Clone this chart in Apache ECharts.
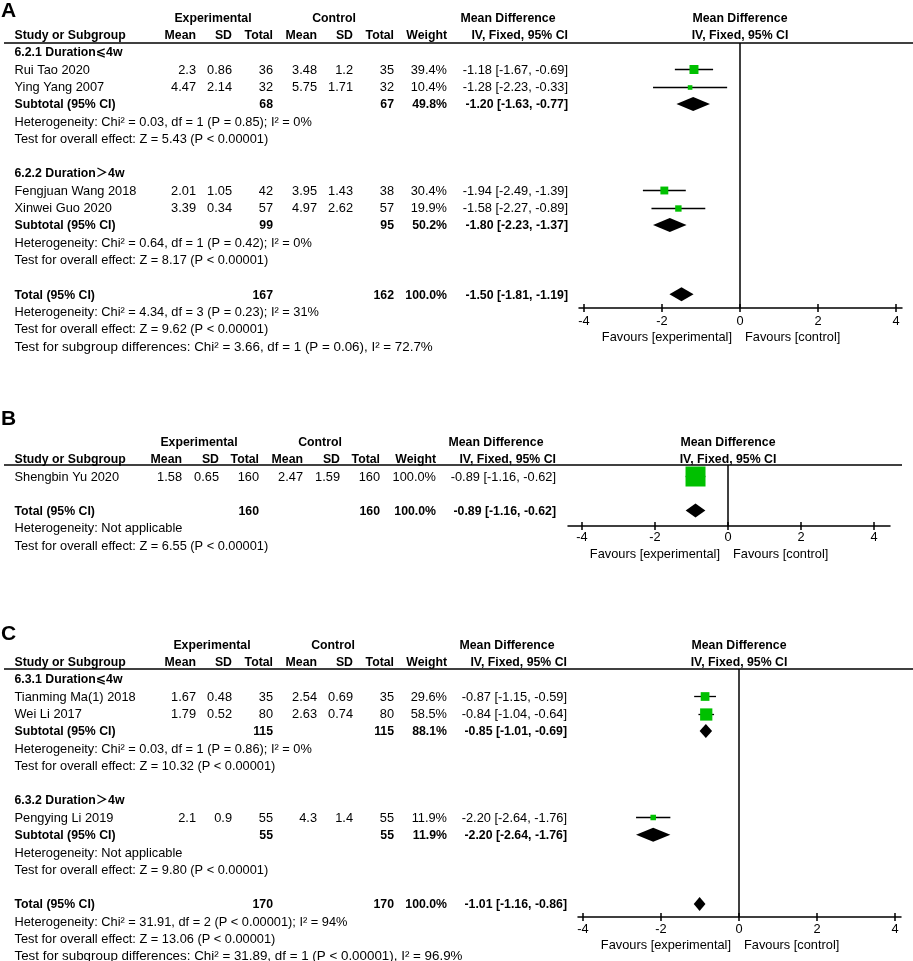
<!DOCTYPE html>
<html><head><meta charset="utf-8">
<style>html,body{margin:0;padding:0;background:#fff}#c{width:913px;height:961px}</style>
<script src="https://cdn.jsdelivr.net/npm/echarts@6/dist/echarts.min.js"></script>
</head><body><div id="c"></div>
<script>
// ---------------- DATA: Panel A ----------------
const A_subgroups = ['6.2.1 Duration\u2A7D4w', '6.2.2 Duration\uFF1E4w'];
const A_studies = ['Rui Tao 2020', 'Ying Yang 2007', 'Fengjuan Wang 2018', 'Xinwei Guo 2020'];
const A_studyGroup = [0, 0, 1, 1];
const A_expMean = [2.3, 4.47, 2.01, 3.39];
const A_expSD = [0.86, 2.14, 1.05, 0.34];
const A_expN = [36, 32, 42, 57];
const A_ctlMean = [3.48, 5.75, 3.95, 4.97];
const A_ctlSD = [1.2, 1.71, 1.43, 2.62];
const A_ctlN = [35, 32, 38, 57];
const A_weight = [39.4, 10.4, 30.4, 19.9];
const A_md = [-1.18, -1.28, -1.94, -1.58];
const A_lo = [-1.67, -2.23, -2.49, -2.27];
const A_hi = [-0.69, -0.33, -1.39, -0.89];
const A_subExpN = [68, 99];
const A_subCtlN = [67, 95];
const A_subWeight = [49.8, 50.2];
const A_subMd = [-1.20, -1.80];
const A_subLo = [-1.63, -2.23];
const A_subHi = [-0.77, -1.37];
const A_subHet = ['Heterogeneity: Chi\u00B2 = 0.03, df = 1 (P = 0.85); I\u00B2 = 0%', 'Heterogeneity: Chi\u00B2 = 0.64, df = 1 (P = 0.42); I\u00B2 = 0%'];
const A_subZ = ['Test for overall effect: Z = 5.43 (P < 0.00001)', 'Test for overall effect: Z = 8.17 (P < 0.00001)'];
const A_totalN = [167, 162];
const A_totalWeight = 100.0;
const A_totalCI = [-1.50, -1.81, -1.19];
const A_totalNotes = ['Heterogeneity: Chi\u00B2 = 4.34, df = 3 (P = 0.23); I\u00B2 = 31%', 'Test for overall effect: Z = 9.62 (P < 0.00001)', 'Test for subgroup differences: Chi\u00B2 = 3.66, df = 1 (P = 0.06), I\u00B2 = 72.7%'];

// ---------------- DATA: Panel B ----------------
const B_studies = ['Shengbin Yu 2020'];
const B_expMean = [1.58];
const B_expSD = [0.65];
const B_expN = [160];
const B_ctlMean = [2.47];
const B_ctlSD = [1.59];
const B_ctlN = [160];
const B_weight = [100.0];
const B_md = [-0.89];
const B_lo = [-1.16];
const B_hi = [-0.62];
const B_totalN = [160, 160];
const B_totalWeight = 100.0;
const B_totalCI = [-0.89, -1.16, -0.62];
const B_totalNotes = ['Heterogeneity: Not applicable', 'Test for overall effect: Z = 6.55 (P < 0.00001)'];

// ---------------- DATA: Panel C ----------------
const C_subgroups = ['6.3.1 Duration\u2A7D4w', '6.3.2 Duration\uFF1E4w'];
const C_studies = ['Tianming Ma(1) 2018', 'Wei Li 2017', 'Pengying Li 2019'];
const C_studyGroup = [0, 0, 1];
const C_expMean = [1.67, 1.79, 2.1];
const C_expSD = [0.48, 0.52, 0.9];
const C_expN = [35, 80, 55];
const C_ctlMean = [2.54, 2.63, 4.3];
const C_ctlSD = [0.69, 0.74, 1.4];
const C_ctlN = [35, 80, 55];
const C_weight = [29.6, 58.5, 11.9];
const C_md = [-0.87, -0.84, -2.20];
const C_lo = [-1.15, -1.04, -2.64];
const C_hi = [-0.59, -0.64, -1.76];
const C_subExpN = [115, 55];
const C_subCtlN = [115, 55];
const C_subWeight = [88.1, 11.9];
const C_subMd = [-0.85, -2.20];
const C_subLo = [-1.01, -2.64];
const C_subHi = [-0.69, -1.76];
const C_subHet = ['Heterogeneity: Chi\u00B2 = 0.03, df = 1 (P = 0.86); I\u00B2 = 0%', 'Heterogeneity: Not applicable'];
const C_subZ = ['Test for overall effect: Z = 10.32 (P < 0.00001)', 'Test for overall effect: Z = 9.80 (P < 0.00001)'];
const C_totalN = [170, 170];
const C_totalWeight = 100.0;
const C_totalCI = [-1.01, -1.16, -0.86];
const C_totalNotes = ['Heterogeneity: Chi\u00B2 = 31.91, df = 2 (P < 0.00001); I\u00B2 = 94%', 'Test for overall effect: Z = 13.06 (P < 0.00001)', 'Test for subgroup differences: Chi\u00B2 = 31.89, df = 1 (P < 0.00001), I\u00B2 = 96.9%'];

const AXIS_TICKS = [-4, -2, 0, 2, 4];

// ---------------- LAYOUT / STYLE ----------------
const FAM = '"Liberation Sans", Arial, "DejaVu Sans", "Noto Sans CJK SC", sans-serif';
const REG = '12.8px ' + FAM;
const BOLD = 'bold 12.3px ' + FAM;
const GREEN = '#00c000';
const COLS_AC = {m: 196, sd: 232, n: 273, cm: 317, csd: 353, cn: 394, w: 447};
const LAYOUTS = [
  {letter: 'A', letterY: 11, row0Y: 53, rowH: 17.3, lineY: 43, lineX2: 913, axisY: 308, axisX1: 579, axisX2: 902, tickL: 584, tickR: 896,
   cols: Object.assign({md: 568}, COLS_AC), hdrExp: 213, hdrCtl: 334, hdrMd: 508, plotHdr: 740, boxK: 1.43, lblMargin: 7, favDy: 29},
  {letter: 'B', letterY: 419, row0Y: 477, rowH: 17.3, lineY: 465, lineX2: 902, axisY: 526, axisX1: 568, axisX2: 890, tickL: 582, tickR: 874,
   cols: {m: 182, sd: 219, n: 259, cm: 303, csd: 340, cn: 380, w: 436, md: 556}, hdrExp: 199, hdrCtl: 320, hdrMd: 496, plotHdr: 728, boxK: 2.0, lblMargin: 5.5, favDy: 28},
  {letter: 'C', letterY: 634, row0Y: 680, rowH: 17.3, lineY: 669, lineX2: 913, axisY: 917, axisX1: 578, axisX2: 901, tickL: 583, tickR: 895,
   cols: Object.assign({md: 567}, COLS_AC), hdrExp: 212, hdrCtl: 333, hdrMd: 507, plotHdr: 739, boxK: 1.6, lblMargin: 6.5, favDy: 28}
];

const PANELS = [
  {subgroups: A_subgroups, studies: A_studies, group: A_studyGroup, expMean: A_expMean, expSD: A_expSD, expN: A_expN,
   ctlMean: A_ctlMean, ctlSD: A_ctlSD, ctlN: A_ctlN, weight: A_weight, md: A_md, lo: A_lo, hi: A_hi,
   subExpN: A_subExpN, subCtlN: A_subCtlN, subWeight: A_subWeight, subMd: A_subMd, subLo: A_subLo, subHi: A_subHi,
   subHet: A_subHet, subZ: A_subZ, totalN: A_totalN, totalWeight: A_totalWeight, totalCI: A_totalCI, totalNotes: A_totalNotes},
  {subgroups: null, studies: B_studies, expMean: B_expMean, expSD: B_expSD, expN: B_expN,
   ctlMean: B_ctlMean, ctlSD: B_ctlSD, ctlN: B_ctlN, weight: B_weight, md: B_md, lo: B_lo, hi: B_hi,
   totalN: B_totalN, totalWeight: B_totalWeight, totalCI: B_totalCI, totalNotes: B_totalNotes},
  {subgroups: C_subgroups, studies: C_studies, group: C_studyGroup, expMean: C_expMean, expSD: C_expSD, expN: C_expN,
   ctlMean: C_ctlMean, ctlSD: C_ctlSD, ctlN: C_ctlN, weight: C_weight, md: C_md, lo: C_lo, hi: C_hi,
   subExpN: C_subExpN, subCtlN: C_subCtlN, subWeight: C_subWeight, subMd: C_subMd, subLo: C_subLo, subHi: C_subHi,
   subHet: C_subHet, subZ: C_subZ, totalN: C_totalN, totalWeight: C_totalWeight, totalCI: C_totalCI, totalNotes: C_totalNotes}
];

function ciText(md, lo, hi) { return md.toFixed(2) + ' [' + lo.toFixed(2) + ', ' + hi.toFixed(2) + ']'; }

const graphics = [];
const grids = [], xAxes = [], yAxes = [], series = [];

function txt(x, y, text, font, align, sx) {
  graphics.push({type: 'text', x: x, y: y, silent: true, scaleX: sx || 1,
    style: {text: text, font: font, fill: '#000', align: align, verticalAlign: 'middle', textAlign: align, textVerticalAlign: 'middle'}});
}

PANELS.forEach(function (P, pi) {
  const L = LAYOUTS[pi];
  const C = L.cols;
  const rowY = function (r) { return L.row0Y + r * L.rowH; };
  txt(1, L.letterY, L.letter, 'bold 21px ' + FAM, 'left');
  txt(L.hdrExp, rowY(-2), 'Experimental', BOLD, 'center');
  txt(L.hdrCtl, rowY(-2), 'Control', BOLD, 'center');
  txt(L.hdrMd, rowY(-2), 'Mean Difference', BOLD, 'center');
  txt(L.plotHdr, rowY(-2), 'Mean Difference', BOLD, 'center');
  txt(14.5, rowY(-1), 'Study or Subgroup', BOLD, 'left');
  txt(C.m, rowY(-1), 'Mean', BOLD, 'right');
  txt(C.sd, rowY(-1), 'SD', BOLD, 'right');
  txt(C.n, rowY(-1), 'Total', BOLD, 'right');
  txt(C.cm, rowY(-1), 'Mean', BOLD, 'right');
  txt(C.csd, rowY(-1), 'SD', BOLD, 'right');
  txt(C.cn, rowY(-1), 'Total', BOLD, 'right');
  txt(C.w, rowY(-1), 'Weight', BOLD, 'right');
  txt(C.md, rowY(-1), 'IV, Fixed, 95% CI', BOLD, 'right');
  txt(L.plotHdr, rowY(-1), 'IV, Fixed, 95% CI', BOLD, 'center');
  graphics.push({type: 'line', silent: true, shape: {x1: 4, y1: L.lineY, x2: L.lineX2, y2: L.lineY}, style: {stroke: '#000', lineWidth: 1.5}});

  const studyData = [], diamondData = [];
  let r = 0;
  function addStudy(i) {
    const y = rowY(r);
    txt(14.5, y, P.studies[i], REG, 'left');
    txt(C.m, y, String(P.expMean[i]), REG, 'right');
    txt(C.sd, y, String(P.expSD[i]), REG, 'right');
    txt(C.n, y, String(P.expN[i]), REG, 'right');
    txt(C.cm, y, String(P.ctlMean[i]), REG, 'right');
    txt(C.csd, y, String(P.ctlSD[i]), REG, 'right');
    txt(C.cn, y, String(P.ctlN[i]), REG, 'right');
    txt(C.w, y, P.weight[i].toFixed(1) + '%', REG, 'right');
    txt(C.md, y, ciText(P.md[i], P.lo[i], P.hi[i]), REG, 'right');
    studyData.push([P.md[i], P.lo[i], P.hi[i], r, P.weight[i]]);
    r++;
  }
  function addPooled(label, nE, nC, w, md, lo, hi) {
    const y = rowY(r);
    txt(14.5, y, label, BOLD, 'left');
    txt(C.n, y, String(nE), BOLD, 'right');
    txt(C.cn, y, String(nC), BOLD, 'right');
    txt(C.w, y, w.toFixed(1) + '%', BOLD, 'right');
    txt(C.md, y, ciText(md, lo, hi), BOLD, 'right');
    diamondData.push([md, lo, hi, r]);
    r++;
  }
  if (P.subgroups) {
    P.subgroups.forEach(function (g, gi) {
      txt(14.5, rowY(r), g, BOLD, 'left'); r++;
      P.studies.forEach(function (s, i) { if (P.group[i] === gi) addStudy(i); });
      addPooled('Subtotal (95% CI)', P.subExpN[gi], P.subCtlN[gi], P.subWeight[gi], P.subMd[gi], P.subLo[gi], P.subHi[gi]);
      txt(14.5, rowY(r), P.subHet[gi], REG, 'left'); r++;
      txt(14.5, rowY(r), P.subZ[gi], REG, 'left'); r++;
      r++;
    });
  } else {
    P.studies.forEach(function (s, i) { addStudy(i); });
    r++;
  }
  addPooled('Total (95% CI)', P.totalN[0], P.totalN[1], P.totalWeight, P.totalCI[0], P.totalCI[1], P.totalCI[2]);
  P.totalNotes.forEach(function (n) {
    const wide = n.indexOf('subgroup differences') >= 0;
    txt(14.5, rowY(r), n, REG, 'left', wide ? 1.045 : 1); r++;
  });

  const unit = (L.tickR - L.tickL) / 8;
  const xMin = -4 - (L.tickL - L.axisX1) / unit;
  const xMax = 4 + (L.axisX2 - L.tickR) / unit;
  const yMin = (L.lineY - L.row0Y) / L.rowH;
  const yMax = (L.axisY - L.row0Y) / L.rowH;
  grids.push({left: L.axisX1, top: L.lineY, width: L.axisX2 - L.axisX1, height: L.axisY - L.lineY, containLabel: false});
  const xi = xAxes.length;
  xAxes.push({gridIndex: pi, type: 'value', min: xMin, max: xMax, position: 'bottom',
    axisLine: {show: true, onZero: false, lineStyle: {color: '#000', width: 1.5}},
    axisTick: {show: true, length: 4, customValues: AXIS_TICKS, lineStyle: {color: '#000', width: 1.5}},
    axisLabel: {show: true, customValues: AXIS_TICKS, color: '#000', fontFamily: FAM, fontSize: 12.8, margin: L.lblMargin},
    splitLine: {show: false}});
  xAxes.push({gridIndex: pi, type: 'value', min: xMin, max: xMax, position: 'bottom',
    axisLine: {show: false, onZero: false},
    axisTick: {show: true, inside: true, length: 4, customValues: AXIS_TICKS, lineStyle: {color: '#000', width: 1.5}},
    axisLabel: {show: false}, splitLine: {show: false}});
  yAxes.push({gridIndex: pi, type: 'value', inverse: true, min: yMin, max: yMax, show: false,
    axisLine: {onZero: false}, splitLine: {show: false}});

  const zeroX = L.tickL + 4 * unit;
  txt(zeroX - 8, L.axisY + L.favDy, 'Favours [experimental]', REG, 'right');
  txt(zeroX + 5, L.axisY + L.favDy, 'Favours [control]', REG, 'left');

  series.push({type: 'line', xAxisIndex: xi, yAxisIndex: pi, data: [[0, yMin], [0, yMax]], symbol: 'none',
    lineStyle: {color: '#000', width: 1.5}, silent: true, animation: false, z: 1});

  const k = L.boxK;
  series.push({type: 'custom', xAxisIndex: xi, yAxisIndex: pi, data: studyData, z: 3, silent: true,
    encode: {x: [0, 1, 2], y: 3},
    renderItem: function (params, api) {
      const row = api.value(3);
      const c = api.coord([api.value(0), row]);
      const l = api.coord([api.value(1), row]);
      const h = api.coord([api.value(2), row]);
      const side = k * Math.sqrt(api.value(4));
      const y = Math.round(c[1]) - 0.5;
      return {type: 'group', children: [
        {type: 'line', shape: {x1: l[0], y1: y, x2: h[0], y2: y}, style: {stroke: '#000', lineWidth: 1.3}},
        {type: 'rect', shape: {x: c[0] - side / 2, y: y - side / 2, width: side, height: side}, style: {fill: GREEN}}
      ]};
    }});
  series.push({type: 'custom', xAxisIndex: xi, yAxisIndex: pi, data: diamondData, z: 3, silent: true,
    encode: {x: [0, 1, 2], y: 3},
    renderItem: function (params, api) {
      const row = api.value(3);
      const c = api.coord([api.value(0), row]);
      const l = api.coord([api.value(1), row]);
      const h = api.coord([api.value(2), row]);
      const y = c[1] - 1;
      return {type: 'polygon', shape: {points: [[l[0], y], [c[0], y - 7], [h[0], y], [c[0], y + 7]]}, style: {fill: '#000'}};
    }});
});

const chart = echarts.init(document.getElementById('c'), null, {renderer: 'canvas'});
chart.setOption({
  animation: false,
  backgroundColor: '#fff',
  grid: grids,
  xAxis: xAxes,
  yAxis: yAxes,
  series: series,
  graphic: {elements: graphics}
});
</script>
</body></html>
